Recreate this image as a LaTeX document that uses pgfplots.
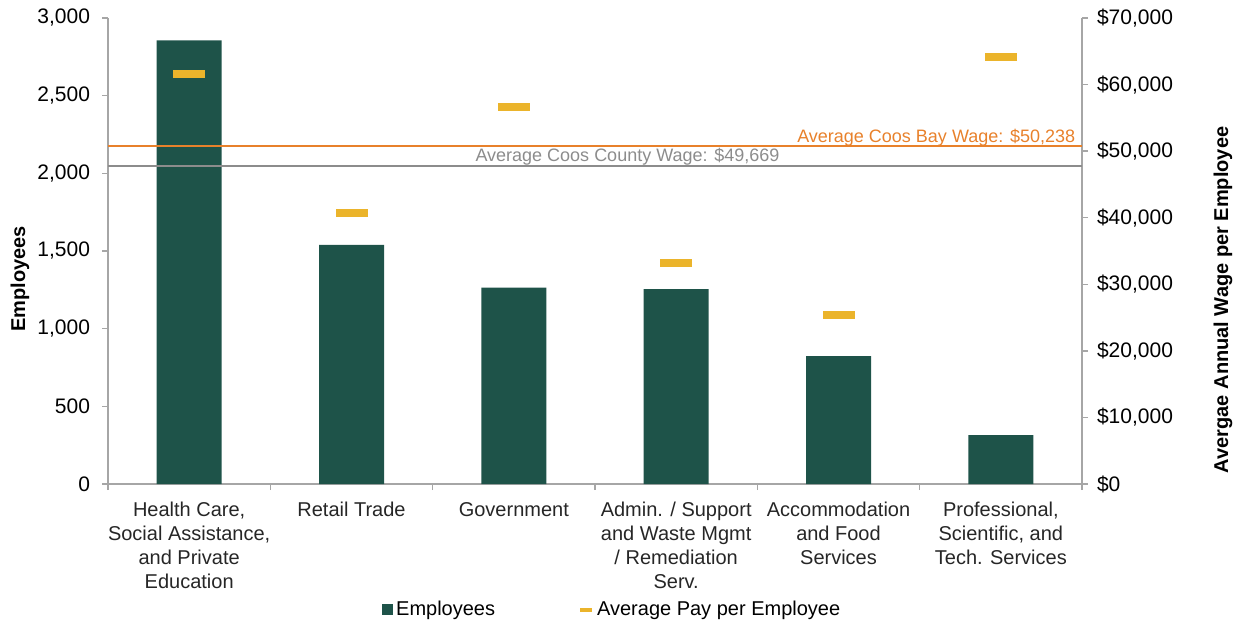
\documentclass[border=0pt]{standalone}
\usepackage{fontspec}
\setmainfont{Liberation Sans}
\usepackage{pgfplots}
\pgfplotsset{compat=1.18}
\definecolor{barcol}{HTML}{1E5349}
\definecolor{gold}{HTML}{EBB42B}
\definecolor{orangeline}{HTML}{E8812B}
\definecolor{grayline}{HTML}{8C8C8C}
\definecolor{axisgray}{HTML}{A6A6A6}
\begin{document}
\begin{tikzpicture}[x=1bp,y=1bp]
\useasboundingbox (0,0) rectangle (620.5,312);
\pgfplotsset{
  common/.style={
    at={(54bp,70bp)}, anchor=south west,
    scale only axis, width=487bp, height=233bp,
    xmin=-0.5, xmax=5.5,
    tick align=outside,
    major tick length=3bp, minor tick length=3bp,
    axis line style={axisgray, line width=0.7bp},
    every tick/.style={axisgray, line width=0.7bp},
    scaled y ticks=false,
    /pgf/number format/.cd, 1000 sep={,}, fixed, assume math mode=true,
  }
}
\begin{axis}[
  common,
  ymin=0, ymax=3000,
  axis y line*=left, axis x line*=bottom,
  ytick={0,500,...,3000},
  xtick={0,...,5},
  major x tick style={draw=none},
  minor xtick={-0.5,0.5,...,5.5},
  xticklabels={{Health Care,\\Social Assistance,\\and Private\\Education},
    {Retail Trade},{Government},
    {Admin. / Support\\and Waste Mgmt\\/ Remediation\\Serv.},
    {Accommodation\\and Food\\Services},
    {Professional,\\Scientific, and\\Tech. Services}},
  xticklabel style={font=\fontsize{10bp}{12bp}\selectfont, align=center, text=black!85, yshift=-2.5bp},
  yticklabel style={font=\fontsize{10.5bp}{12bp}\selectfont, text=black, xshift=-2.5bp},
  ylabel={Employees},
  ylabel style={at={(-0.0903,0.44)}, anchor=center, font=\bfseries\fontsize{10bp}{12bp}\selectfont},
]
\addplot[ybar, bar width=32.5bp, fill=barcol, draw=none]
  coordinates {(0,2856) (1,1539) (2,1265) (3,1255) (4,824) (5,315)};
\end{axis}
\begin{axis}[
  common,
  ymin=0, ymax=70000,
  axis y line*=right, axis x line=none,
  ytick={0,10000,...,70000},
  yticklabel={\$\pgfmathprintnumber{\tick}},
  yticklabel style={font=\fontsize{10.5bp}{12bp}\selectfont, text=black, xshift=1bp},
  ylabel={Avergae Annual Wage per Employee},
  ylabel style={at={(1.1448,0.395)}, anchor=center, font=\bfseries\fontsize{10bp}{12bp}\selectfont},
  clip=false,
  legend columns=2,
  legend cell align=left,
  legend style={at={(0.2813,-0.2701)}, anchor=west, draw=none, fill=none,
    inner sep=0pt, font=\fontsize{10bp}{12bp}\selectfont,
    /tikz/every even column/.append style={column sep=40bp},
    nodes={inner sep=1.5bp}},
]
\addplot[orangeline, line width=1bp, forget plot] coordinates {(-0.5,50700) (5.5,50700)};
\addplot[grayline, line width=1bp, forget plot] coordinates {(-0.5,47800) (5.5,47800)};
\node[anchor=base east, inner sep=0pt, yshift=2bp, text=orangeline, font=\fontsize{9bp}{11bp}\selectfont]
  at (axis cs:5.46,50700) {Average Coos Bay Wage: \$50,238};
\node[anchor=base, inner sep=0pt, yshift=2bp, text=grayline, font=\fontsize{9bp}{11bp}\selectfont]
  at (axis cs:2.70,47800) {Average Coos County Wage: \$49,669};
\addlegendimage{legend image code/.code={\fill[barcol] (0bp,-2.5bp) rectangle (5bp,2.5bp);}}
\addlegendentry{Employees}
\addplot[only marks, mark=-, mark size=8bp, mark options={gold, line width=4bp},
  legend image code/.code={\draw[gold, line width=2bp] (0bp,0bp) -- (6bp,0bp);}]
  coordinates {(0,61590) (1,40700) (2,56700) (3,33200) (4,25400) (5,64200)};
\addlegendentry{Average Pay per Employee}
\end{axis}
\end{tikzpicture}
\end{document}
